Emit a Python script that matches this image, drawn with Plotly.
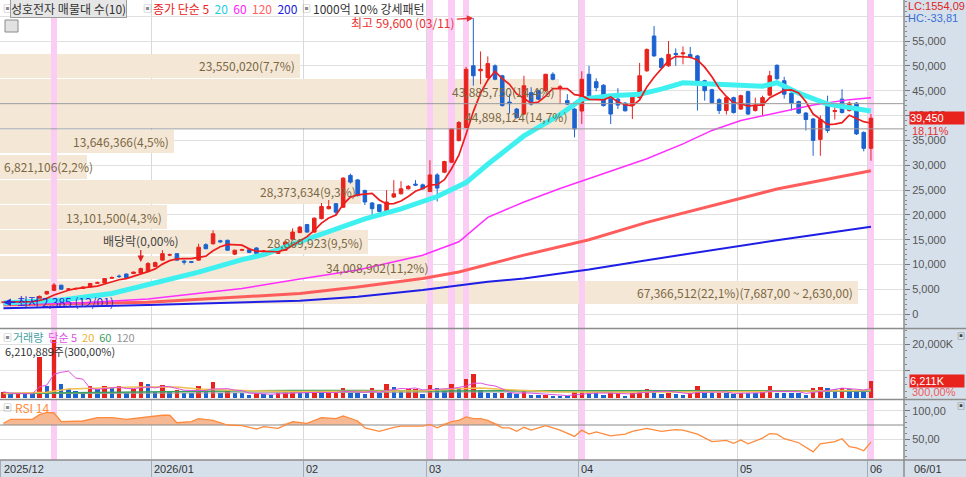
import numpy as np
import pandas as pd
import plotly.graph_objects as go

# ---------------------------------------------------------------------------
# data (daily candles, index 0 = 2025/12/01)
# ---------------------------------------------------------------------------
month_labels = ["2025/12", "2026/01", "02", "03", "04", "05", "06"]
month_start = [0, 21, 42, 59, 80, 102, 120]

opens = [2420, 2450, 2500, 2540, 2600, 2750, 4100, 4800, 5850, 5050,
         5100, 5200, 5500, 6250, 6300, 7250, 7700, 8100, 8200, 8300,
         8600, 9600, 10900, 11900, 12200, 10700, 10600, 10900, 14000, 14200,
         14800, 14900, 12100, 12900, 13000, 13350, 12600, 12700, 12250, 12900,
         15100, 16450, 18050, 16550, 19250, 21250, 22250, 21550, 27950, 27050,
         24900, 22400, 22050, 20700, 23600, 24250, 25250, 26200, 26050, 24700,
         28050, 28600, 30600, 34950, 37600, 50000, 49000, 47650, 50000, 48000,
         42700, 41300, 40300, 44600, 45000, 45000, 48300, 45500, 43000, 41300,
         40900, 48300, 46800, 46100, 44000, 43300, 42500, 42000, 43600, 49000,
         56000, 51450, 50000, 52500, 52400, 52300, 52000, 47000, 45200, 43200,
         41000, 43600, 41300, 44800, 41000, 42000, 44100, 50100, 47000, 44500,
         42800, 40500, 39300, 35200, 42500, 40800, 43300, 41000, 42500, 36600,
         33400]
highs = [2480, 2520, 2560, 2620, 2750, 3800, 4700, 6300, 5950, 5300,
         5350, 5600, 6300, 6600, 7300, 7650, 8000, 8200, 8600, 9400,
         10500, 10600, 12900, 12200, 12300, 11000, 10700, 14200, 14300, 16900,
         15000, 15000, 13000, 13200, 13200, 13500, 12900, 12800, 13000, 14700,
         17300, 17800, 18200, 19500, 22400, 23000, 22400, 27600, 28300, 27200,
         25100, 22600, 22200, 25000, 27000, 26800, 26000, 27000, 26300, 31000,
         28400, 30900, 37400, 38900, 49800, 59600, 52900, 51900, 50300, 48200,
         44300, 41500, 48000, 45700, 45200, 48400, 48700, 46200, 44300, 41500,
         48900, 50000, 47500, 46300, 44200, 45500, 42700, 44500, 50600, 53500,
         58000, 51700, 55000, 53500, 53900, 53800, 52200, 47200, 45400, 43500,
         43800, 43800, 44200, 45000, 43600, 44000, 49000, 50300, 47800, 44700,
         43000, 40700, 39500, 40000, 44000, 41800, 45300, 42800, 42700, 36800,
         40300]
lows = [2385, 2430, 2470, 2510, 2580, 2700, 3900, 4700, 4950, 4950,
        5000, 5150, 5450, 6150, 6250, 7150, 7300, 7300, 8100, 8200,
        8500, 9500, 10800, 11700, 10800, 10000, 10300, 10800, 13100, 14000,
        14400, 12800, 11900, 12700, 12300, 12100, 12500, 12400, 12200, 12800,
        15000, 16300, 16400, 16400, 19100, 21100, 19900, 21400, 26300, 23700,
        22000, 19900, 20500, 20600, 23400, 24100, 25100, 25800, 25100, 24600,
        22700, 28400, 30500, 34800, 37500, 46000, 46300, 47400, 47100, 41800,
        40400, 39400, 40100, 42000, 43100, 44800, 47100, 42300, 42100, 35600,
        38300, 43400, 44900, 41800, 38300, 41300, 40800, 39300, 43400, 48800,
        51800, 49400, 49800, 50000, 50300, 51500, 41000, 43000, 42400, 40300,
        40200, 40400, 41100, 40100, 40800, 40000, 43900, 47200, 43400, 41000,
        40300, 37000, 31900, 31900, 36500, 39200, 40400, 40800, 36100, 32800,
        30900]
closes = [2450, 2500, 2540, 2600, 2700, 3600, 4600, 5900, 5050, 5100,
          5200, 5500, 6200, 6350, 7200, 7400, 7600, 7400, 8500, 9200,
          10200, 10400, 12200, 12000, 10900, 10500, 10450, 13500, 13200, 16200,
          14600, 12900, 12900, 13000, 12450, 12250, 12750, 12600, 12900, 14550,
          16550, 17550, 16550, 19350, 21700, 21700, 20550, 27400, 26600, 23900,
          22600, 21250, 20700, 22600, 24250, 25250, 25750, 26000, 25250, 28050,
          25400, 30750, 37300, 38600, 49300, 48000, 49300, 50450, 47300, 42000,
          42400, 39600, 46000, 42300, 43300, 48300, 47300, 45800, 42300, 37300,
          47300, 43600, 45600, 42000, 40300, 42100, 40950, 44300, 48000, 53300,
          52000, 49650, 52300, 52300, 52600, 51800, 47000, 45000, 42600, 41000,
          43600, 40600, 44000, 40300, 42000, 43600, 48000, 47400, 44300, 42500,
          40500, 39200, 35000, 39200, 37000, 41000, 40600, 42500, 36300, 33400,
          39450]

# volume in thousand shares
volume_k = [2200, 1200, 1300, 1300, 1200, 15300, 4400, 21500, 5000, 3200,
            2600, 2200, 4400, 3200, 4400, 3500, 4200, 1700, 3200, 6000,
            5200, 2200, 4800, 2200, 2900, 1900, 1700, 4400, 2500, 5700,
            1700, 2600, 1700, 1600, 1000, 1700, 1200, 1000, 1700, 2200,
            2600, 1700, 1600, 2500, 1700, 1900, 2000, 3500, 1700, 1600,
            1500, 3500, 1700, 5000, 4000, 2900, 3100, 3200, 1400, 4600,
            3500, 2600, 5000, 3500, 7000, 8700, 2900, 1700, 1600, 1800,
            1700, 1400, 2600, 1000, 900, 1000, 800, 700, 600, 2200,
            2600, 1700, 1600, 1000, 1700, 1800, 800, 1700, 3000, 3100,
            2900, 1400, 1700, 1400, 1000, 1700, 4200, 1700, 1600, 1700,
            1600, 1400, 1900, 1700, 1600, 2600, 4200, 1900, 1800, 1700,
            1600, 1000, 3500, 3900, 3800, 3200, 3500, 3100, 2200, 2070,
            6211]

# long moving averages (need history before the visible window) - read points
ma20_idx = [0, 8, 15, 20, 27, 33, 36, 41, 46, 50, 55, 60, 64, 67, 72, 77, 80,
            84, 88, 91, 94, 100, 105, 107, 110, 114, 117, 120]
ma20_val = [2250, 2870, 4200, 6000, 8500, 11000, 12000, 14600, 17300, 19200,
            21200, 23700, 26500, 30200, 35900, 40200, 43300, 44000, 44300,
            45300, 46600, 46100, 45900, 46600, 44500, 42300, 41500, 40900]
ma60_idx = [0, 11, 20, 33, 41, 49, 58, 63, 67, 72, 77, 81, 84, 89, 94, 98,
            102, 107, 112, 117, 120]
ma60_val = [2000, 2300, 3070, 5200, 7100, 8900, 11900, 14600, 19500, 22600,
            25300, 27300, 28900, 31300, 34300, 37000, 39000, 40600, 42100,
            43200, 43600]
ma120_idx = [0, 20, 41, 49, 58, 63, 72, 81, 89, 98, 107, 120]
ma120_val = [1850, 2400, 4200, 5500, 7200, 8500, 11900, 15000, 18500, 21900,
             25200, 28900]
ma200_idx = [0, 20, 41, 49, 58, 67, 72, 81, 89, 98, 107, 120]
ma200_val = [1200, 1860, 2730, 3530, 4870, 6540, 7220, 9000, 10900, 12900,
             14900, 17600]

vma20_idx = [0, 6, 9, 14, 18, 24, 27, 33, 40, 50, 58, 62, 66, 70, 76, 82, 90,
             100, 110, 116, 120]
vma20_val = [1600, 2000, 3200, 3600, 4000, 4000, 3200, 2700, 2300, 2400, 2600,
             3200, 3600, 3000, 2200, 2000, 2200, 2200, 2400, 2800, 2900]
vma60_idx = [0, 10, 20, 30, 40, 50, 60, 70, 80, 90, 100, 110, 120]
vma60_val = [1600, 1900, 2300, 2600, 2700, 2700, 2500, 2600, 2600, 2600, 2400,
             2500, 2600]
vma120_idx = [0, 60, 120]
vma120_val = [1500, 2100, 2300]

rsi_idx = [0, 1, 4, 5, 6, 7, 8, 9, 11, 13, 15, 17, 19, 22, 23, 24, 26, 27, 29,
           31, 33, 35, 36, 38, 40, 42, 44, 46, 47, 49, 50, 52, 54, 55, 58, 59,
           60, 62, 63, 64, 65, 66, 67, 69, 70, 71, 72, 73, 75, 77, 79, 80, 81,
           82, 84, 86, 87, 89, 91, 93, 94, 96, 98, 100, 101, 102, 103, 105,
           106, 107, 108, 110, 112, 113, 115, 116, 117, 118, 119, 120]
rsi_val = [78, 85, 85, 93, 97, 96, 81, 81, 82, 88, 88, 85, 88, 92, 92, 79, 81,
           86, 83, 75, 74, 68, 72, 69, 81, 78, 88, 86, 91, 82, 70, 64, 71, 73,
           73, 76, 70, 81, 83, 89, 86, 86, 83, 70, 70, 64, 71, 66, 74, 66, 55,
           66, 59, 63, 56, 59, 64, 69, 64, 67, 66, 59, 46, 48, 43, 49, 42, 52,
           60, 59, 51, 44, 28, 42, 46, 51, 37, 35, 30, 45]
rsi_base = 75

# volume-by-price profile (10 bands)
band_low = [1835, 6904, 11973, 17042, 22111, 27180, 32249, 37318, 42387, 47456]
band_height = 5069
band_vol = [67366512, 34008902, 28869923, 13101500, 28373634, 6821106,
            13646366, 44898124, 43885750, 23550020]
band_pct = ["22,1", "11,2", "9,5", "4,3", "9,3", "2,2", "4,5", "14,7", "14,4", "7,7"]
band_range_text = "(7,687,00 ~ 2,630,00)"

pattern_idx = [7, 59, 62, 64, 80, 120]     # 1000억 10% 강세패턴 days
price_ticks = [0, 5000, 10000, 15000, 20000, 25000, 30000, 35000, 40000,
               45000, 50000, 55000, 60000]

# ---------------------------------------------------------------------------
KR = "Noto Sans CJK KR"
NUM = "Liberation Sans"
RED = "#e8231e"
BLUE = "#1c62d0"
PINK = "#fbcdf5"
GRID = "#e0e0e0"
PANEL = "#d6e0eb"

PLOT_W, PLOT_H = 904, 460
X_RANGE = [-0.47, 124.57]
Y_MAIN = [-2757, 63250]
Y_VOL = [-110, 25600]
Y_RSI = [13.8, 118.7]
BAND_PX = 858          # pixel length of the largest volume-by-price band


def xp(px):
    return px / PLOT_W


def yp(px):
    return (PLOT_H - px) / PLOT_H


def txt(x, y, text, color="#333", size=12, family=KR, **kw):
    d = dict(xref="paper", yref="paper", x=x, y=y, text=text, showarrow=False,
             xanchor="left", yanchor="middle",
             font=dict(family=family, size=size, color=color))
    d.update(kw)
    return d


idx = list(range(len(closes)))
ma5 = pd.Series(closes).rolling(5, min_periods=1).mean()
vma5 = pd.Series(volume_k).rolling(5, min_periods=1).mean()
vol_colors = [RED if i == 0 or volume_k[i] > volume_k[i - 1] else BLUE for i in idx]
grid_x = [s - 0.45 for s in month_start]

fig = go.Figure()

# --- volume-by-price bands (own x scale) ---
fig.add_trace(go.Bar(
    x=band_vol, y=[lo + band_height / 2 for lo in band_low], orientation="h",
    width=band_height - 280, marker=dict(color="#f4e7d6", line_width=0),
    xaxis="x", yaxis="y", hoverinfo="skip"))

# --- pattern day bands ---
for xa, ya, rng in [("x4", "y", Y_MAIN), ("x2", "y2", Y_VOL), ("x3", "y3", Y_RSI)]:
    fig.add_trace(go.Bar(
        x=pattern_idx, y=[rng[1] - rng[0]] * len(pattern_idx), base=rng[0],
        width=0.9, marker=dict(color=PINK, line_width=0),
        xaxis=xa, yaxis=ya, hoverinfo="skip"))

# --- moving averages ---
for xs, ys, col, w in [(ma200_idx, ma200_val, "#1e1ee6", 2),
                       (ma120_idx, ma120_val, "#ff5c5c", 3),
                       (ma60_idx, ma60_val, "#ff2eff", 1.5),
                       (ma20_idx, ma20_val, "#3ff0f0", 5)]:
    fig.add_trace(go.Scatter(x=xs, y=ys, mode="lines", line=dict(color=col, width=w),
                             xaxis="x4", yaxis="y", hoverinfo="skip"))

fig.add_trace(go.Candlestick(
    x=idx, open=opens, high=highs, low=lows, close=closes,
    increasing=dict(line=dict(color=RED, width=1), fillcolor=RED),
    decreasing=dict(line=dict(color=BLUE, width=1), fillcolor=BLUE),
    whiskerwidth=0, xaxis="x4", yaxis="y", hoverinfo="skip"))

fig.add_trace(go.Scatter(x=idx, y=ma5, mode="lines", line=dict(color="#ee1c1c", width=1.7),
                         xaxis="x5", yaxis="y", hoverinfo="skip"))

# --- volume ---
fig.add_trace(go.Bar(x=idx, y=volume_k, width=0.62, marker=dict(color=vol_colors, line_width=0),
                     xaxis="x2", yaxis="y2", hoverinfo="skip"))
for xs, ys, col, w in [(vma120_idx, vma120_val, "#a0a0a0", 1),
                       (vma60_idx, vma60_val, "#3aa060", 1.5),
                       (vma20_idx, vma20_val, "#f0c050", 1.5),
                       (idx, vma5, "#e050e0", 1)]:
    fig.add_trace(go.Scatter(x=xs, y=ys, mode="lines", line=dict(color=col, width=w),
                             xaxis="x2", yaxis="y2", hoverinfo="skip"))

# --- RSI ---
fig.add_trace(go.Scatter(x=rsi_idx, y=[rsi_base] * len(rsi_idx), mode="lines",
                         line=dict(width=0), xaxis="x3", yaxis="y3", hoverinfo="skip"))
fig.add_trace(go.Scatter(x=rsi_idx, y=np.maximum(rsi_val, rsi_base), mode="lines",
                         fill="tonexty", fillcolor="#f6b994", line=dict(width=0),
                         xaxis="x3", yaxis="y3", hoverinfo="skip"))
fig.add_trace(go.Scatter(x=[X_RANGE[0], X_RANGE[1]], y=[rsi_base, rsi_base], mode="lines",
                         line=dict(color="#8a8a8a", width=1), xaxis="x3", yaxis="y3",
                         hoverinfo="skip"))
fig.add_trace(go.Scatter(x=rsi_idx, y=rsi_val, mode="lines", line=dict(color="#ff8a3c", width=1.3),
                         xaxis="x3", yaxis="y3", hoverinfo="skip"))

# ---------------------------------------------------------------------------
ann = []
# header legends
ann.append(txt(xp(1), yp(8), "▣", "#8a8a8a", 9))
ann.append(txt(xp(10), yp(8), "성호전자 매물대 수(10)", "#333", 12,
               bgcolor="#e6e6e6", bordercolor="#9c9c9c", borderwidth=1, borderpad=0))
ann.append(txt(xp(141), yp(8), "▣", "#8a8a8a", 9))
ann.append(txt(xp(151), yp(8),
               '<span style="color:#e82020">종가 단순 5</span>  '
               '<span style="color:#22d0e0">20</span>  '
               '<span style="color:#ff20ff">60</span>  '
               '<span style="color:#ff6060">120</span>  '
               '<span style="color:#2020e0">200</span>'))
ann.append(txt(xp(300), yp(8), "▣", "#8a8a8a", 9))
ann.append(txt(xp(311), yp(8), "1000억 10% 강세패턴", "#333", 12))

ann.append(txt(xp(1), yp(337), "▣", "#8a8a8a", 9))
ann.append(txt(xp(11), yp(337),
               '<span style="color:#45a0a0">거래량</span>  '
               '<span style="color:#e050e0">단순 5</span>  '
               '<span style="color:#f0b030">20</span>  '
               '<span style="color:#3aa060">60</span>  '
               '<span style="color:#909090">120</span>', size=11))
ann.append(txt(xp(3), yp(351), "6,210,889주(300,00%)", "#333", 11))
ann.append(txt(xp(1), yp(407), "▣", "#8a8a8a", 9))
ann.append(txt(xp(13), yp(407), "RSI 14", "#ff8a3c", 12))

# volume-by-price labels
for k, (v, p) in enumerate(zip(band_vol, band_pct)):
    label = f"{v:,}({p}%)" + (band_range_text if k == 0 else "")
    ymid = band_low[k] + band_height / 2
    if v / band_vol[0] * BAND_PX < 110:      # too short: text starts at the left edge
        ann.append(dict(xref="paper", yref="y", x=0, y=ymid, text=label, showarrow=False,
                        xanchor="left", yanchor="middle", xshift=2,
                        font=dict(family=KR, size=12, color="#7b6843")))
    else:
        ann.append(dict(xref="x", yref="y", x=v, y=ymid, text=label, showarrow=False,
                        xanchor="right", yanchor="middle", xshift=-3,
                        font=dict(family=KR, size=12, color="#7b6843")))

# high / low / ex-dividend markers
hi_i = int(np.argmax(highs))
lo_i = int(np.argmin(lows))
ann.append(dict(xref="x4", yref="y", x=hi_i, y=highs[hi_i], text="최고 59,600 (03/11)",
                showarrow=True, ax=-70, ay=4, arrowhead=2, arrowsize=1, arrowwidth=1.3,
                arrowcolor="#e83030", font=dict(family=KR, size=12, color="#e83030")))
ann.append(dict(xref="x4", yref="y", x=lo_i, y=lows[lo_i], text="최저 2,385 (12/01)",
                showarrow=True, ax=62, ay=-1, arrowhead=2, arrowsize=1, arrowwidth=1.5,
                arrowcolor="#2a2ad8", font=dict(family=KR, size=12, color="#2a2ad8")))
ann.append(dict(xref="x4", yref="y", x=19, y=10500, text="배당락(0,00%)",
                showarrow=True, ax=0, ay=-22, arrowhead=2, arrowsize=1, arrowwidth=1.3,
                arrowcolor="#e02020", font=dict(family=KR, size=12, color="#444")))

# month labels
for lab, g in zip(month_labels, grid_x):
    ann.append(dict(xref="x3", yref="paper", x=max(g, X_RANGE[0] + 0.25), y=0,
                    text=lab, showarrow=False, xanchor="left", yanchor="top",
                    yshift=-1, font=dict(family=NUM, size=11, color="#333")))
ann.append(txt(xp(912), yp(468.5), "06/01", "#333", 11, NUM))

# right side values
ann.append(txt(xp(906), yp(6), "LC:1554,09", "#e02424", 11, NUM))
ann.append(txt(xp(906), yp(18), "HC:-33,81", "#3a6ed8", 11, NUM))
ann.append(dict(xref="paper", yref="y", x=xp(909), y=closes[-1], text="39,450",
                showarrow=False, xanchor="left", yanchor="middle", width=54, height=12,
                align="left", valign="middle", bgcolor=RED, borderpad=0,
                font=dict(family=NUM, size=11, color="white")))
ann.append(txt(xp(910), yp(131), "18,11%", "#e83030", 11, NUM))
ann.append(dict(xref="paper", yref="y2", x=xp(909), y=volume_k[-1], text="6,211K",
                showarrow=False, xanchor="left", yanchor="middle", width=54, height=12,
                align="left", valign="middle", bgcolor=RED, borderpad=0,
                font=dict(family=NUM, size=11, color="white")))
ann.append(txt(xp(910), yp(392), "300,00%", "#f05a5a", 11, NUM))
ann.append(txt(xp(955), yp(335), "▣", "#444", 8))
ann.append(txt(xp(955), yp(405), "▣", "#444", 8))

# ---------------------------------------------------------------------------
# current price band edges
cur_k = max(k for k, lo in enumerate(band_low) if lo <= closes[-1])
band_edges = [band_low[cur_k], band_low[cur_k] + band_height]

shapes = [
    dict(type="rect", xref="paper", yref="paper", x0=1, x1=966 / PLOT_W, y0=-17 / PLOT_H, y1=1,
         fillcolor=PANEL, line_width=0, layer="below"),
    dict(type="rect", xref="paper", yref="paper", x0=0, x1=1, y0=-17 / PLOT_H, y1=0,
         fillcolor=PANEL, line_width=0, layer="below"),
    dict(type="rect", xref="paper", yref="paper", x0=xp(5), x1=xp(18), y0=yp(32), y1=yp(20),
         fillcolor="#e2e2e2", line=dict(color="#8a8a8a", width=1)),
]
for e in band_edges:
    shapes.append(dict(type="line", xref="paper", yref="y", x0=0, x1=1, y0=e, y1=e,
                       line=dict(color="#9a9a9a", width=1)))
for ypx in [328.5, 399.5]:
    shapes.append(dict(type="line", xref="paper", yref="paper", x0=0, x1=966 / PLOT_W,
                       y0=yp(ypx), y1=yp(ypx), line=dict(color="#8c8c8c", width=1.5)))
shapes.append(dict(type="line", xref="paper", yref="paper", x0=0, x1=966 / PLOT_W, y0=0, y1=0,
                   line=dict(color="#8c8c8c", width=1.5)))
shapes.append(dict(type="line", xref="paper", yref="paper", x0=1, x1=1, y0=-17 / PLOT_H, y1=1,
                   line=dict(color="#8c8c8c", width=1.5)))

xcommon = dict(range=X_RANGE, tickvals=grid_x, showticklabels=False, showgrid=True,
               gridcolor="#d9d9d9", zeroline=False, fixedrange=True,
               rangeslider=dict(visible=False))
yfont = dict(family=NUM, size=11, color="#555")

fig.update_layout(
    width=966, height=477,
    margin=dict(l=0, r=62, t=0, b=17, autoexpand=False),
    paper_bgcolor="white", plot_bgcolor="white",
    showlegend=False, barmode="overlay", bargap=0,
    font=dict(family=KR, size=12, color="#333"),
    xaxis=dict(domain=[0, 1], anchor="y", range=[0, band_vol[0] * PLOT_W / BAND_PX],
               visible=False, fixedrange=True),
    xaxis4=dict(domain=[0, 1], anchor="y", overlaying="x", **xcommon),
    xaxis5=dict(domain=[0, 1], anchor="y", overlaying="x", range=X_RANGE, visible=False,
                fixedrange=True),
    xaxis2=dict(domain=[0, 1], anchor="y2", **xcommon),
    xaxis3=dict(domain=[0, 1], anchor="y3", ticks="outside", ticklen=16,
                tickcolor="#a4acb8", **xcommon),
    yaxis=dict(domain=[yp(328), 1], anchor="x", side="right", range=Y_MAIN,
               tickvals=price_ticks,
               ticktext=[f"{v:,}" if v < 60000 else "" for v in price_ticks],
               ticks="outside", ticklen=5, tickcolor="#777", tickfont=yfont,
               minor=dict(ticks="outside", ticklen=2, tickcolor="#888", dtick=1000,
                          showgrid=False),
               showgrid=True, gridcolor=GRID, zeroline=False, fixedrange=True),
    yaxis2=dict(domain=[yp(398), yp(329)], anchor="x2", side="right", range=Y_VOL,
                tickvals=[10000, 20000], ticktext=["", "20,000K"],
                ticks="outside", ticklen=5, tickcolor="#777", tickfont=yfont,
                minor=dict(ticks="outside", ticklen=2, tickcolor="#888", dtick=2500,
                           showgrid=False),
                showgrid=True, gridcolor=GRID, zeroline=False, fixedrange=True),
    yaxis3=dict(domain=[0, yp(400)], anchor="x3", side="right", range=Y_RSI,
                tickvals=[50, 100], ticktext=["50,00", "100,00"],
                ticks="outside", ticklen=5, tickcolor="#777", tickfont=yfont,
                minor=dict(ticks="outside", ticklen=2, tickcolor="#888", dtick=10,
                           showgrid=False),
                showgrid=True, gridcolor=GRID, zeroline=False, fixedrange=True),
    annotations=ann,
    shapes=shapes,
)

# the page body has a default 8px margin; remove it so the chart fills the window
fig.write_html("out.html", config={"displayModeBar": False},
               post_script="document.body.style.margin='0';")
